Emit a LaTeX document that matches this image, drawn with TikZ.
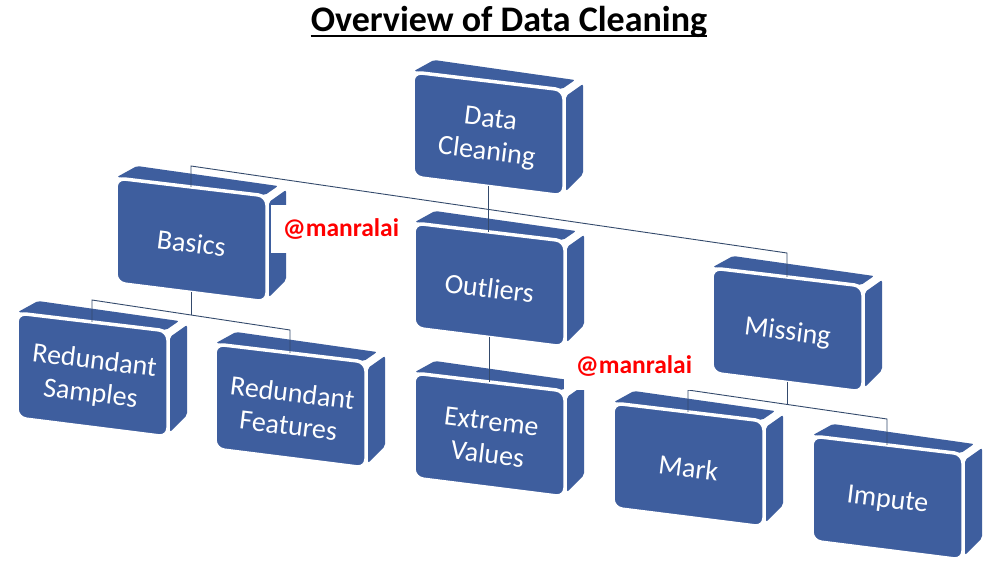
\documentclass[tikz,border=0pt]{standalone}
\usepackage{fontspec}
\setmainfont{Carlito}
\definecolor{boxblue}{RGB}{62,94,158}
\definecolor{connc}{RGB}{52,74,108}
\definecolor{wmred}{RGB}{255,0,0}
\tikzset{
  boxtext/.style={text=white, font=\fontsize{28}{33}\selectfont, align=center, rotate=-7, inner sep=0pt},
  conn/.style={draw=connc, line width=0.9pt},
  wm/.style={fill=white, text=wmred, font=\bfseries\fontsize{25.5}{28}\selectfont, inner xsep=12pt, minimum height=48pt},
}
\newcommand\dcbox[4]{%
  \begin{scope}[shift={(#2,#3)}]
    \fill[boxblue, rounded corners=2pt] (1,-1) -- (21,-12) -- (162,8) -- (149,17) -- cycle;
    \fill[boxblue, rounded corners=2pt] (153,24) -- (170,12) -- (170,102) -- (153,119) -- cycle;
    \filldraw[fill=boxblue, draw=white, line width=3.5pt, rounded corners=9pt]
      (0,50) -- (0,0) -- (151,18) -- (151,124) -- (0,105) -- cycle;
    \node[boxtext] (#1) at (75.5,65) {#4};
    \coordinate (#1-t) at (75,8.9);
    \coordinate (#1-b) at (75,114.4);
  \end{scope}}
\begin{document}
\begin{tikzpicture}[x=1pt, y=-1pt]
  \fill[white] (0,0) rectangle (1004,565);
  \useasboundingbox (0,0) rectangle (1004,565);
  % title
  \node[font=\bfseries\fontsize{36}{40}\selectfont, anchor=base, inner sep=0pt] (title) at (509,31) {Overview of Data Cleaning};
  \draw[line width=2.6pt] ([yshift=-5pt]title.base west) -- ([yshift=-5pt]title.base east);
  % boxes
  \dcbox{dc}{413}{72}{Data\\Cleaning}
  \dcbox{bas}{116}{178}{Basics}
  \dcbox{out}{414}{223}{Outliers}
  \dcbox{mis}{712}{268}{Missing}
  \dcbox{rs}{17}{313}{Redundant\\Samples}
  \dcbox{rf}{215}{344}{Redundant\\Features}
  \dcbox{ext}{414}{373}{Extreme\\Values}
  \dcbox{mark}{613}{403}{Mark}
  \dcbox{imp}{812}{436}{Impute}
  % bus coordinates
  \coordinate (busA) at (191,166);
  \coordinate (busB) at (787,253);
  \coordinate (rbA) at (92,300);
  \coordinate (rbB) at (290,330);
  \coordinate (basbus) at (191,315);
  \coordinate (mbA) at (688,390);
  \coordinate (mbB) at (887,419);
  \coordinate (misbus) at (787,404);
  % connectors
  \draw[conn] (bas-t) -- (busA) -- (busB) -- (mis-t);
  \draw[conn] (dc-b) -- (dc-b |- out-t);
  \draw[conn] (rs-t) -- (rbA) -- (rbB) -- (rf-t);
  \draw[conn] (bas-b) -- (basbus);
  \draw[conn] (out-b) -- (out-b |- ext-t);
  \draw[conn] (mark-t) -- (mbA) -- (mbB) -- (imp-t);
  \draw[conn] (mis-b) -- (misbus);
  % watermarks
  \node[wm] (wm1) at (341,229) {@manralai};
  \node[wm] (wm2) at (634,366) {@manralai};
\end{tikzpicture}
\end{document}
